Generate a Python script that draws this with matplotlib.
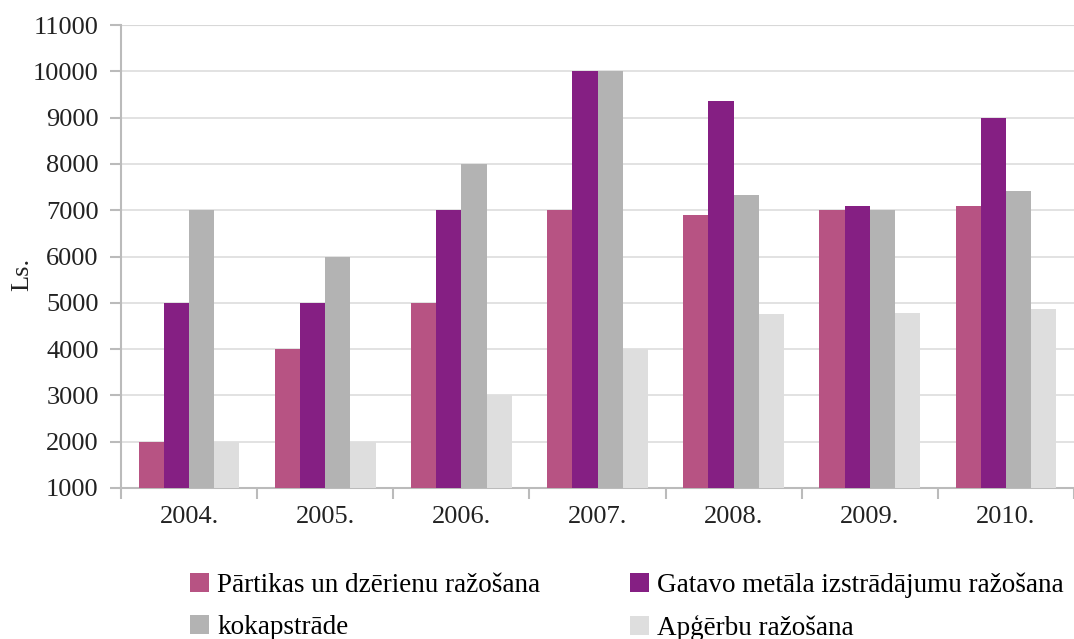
import matplotlib.pyplot as plt
import numpy as np

plt.rcParams['font.family'] = ['Liberation Serif', 'DejaVu Serif']

gadi = ['2004.', '2005.', '2006.', '2007.', '2008.', '2009.', '2010.']
partikas = [2000, 4000, 5000, 7000, 6900, 7000, 7100]
metala = [5000, 5000, 7000, 10000, 9350, 7100, 9000]
koka = [7000, 6000, 8000, 10000, 7330, 7000, 7420]
apgerbu = [2000, 2000, 3000, 4000, 4760, 4780, 4870]

nozares = ['Pārtikas un dzērienu ražošana', 'Gatavo metāla izstrādājumu ražošana',
           'kokapstrāde', 'Apģērbu ražošana']
vertibas = [partikas, metala, koka, apgerbu]
krasas = ['#B75383', '#851F83', '#B3B3B3', '#DEDEDE']

fig = plt.figure(figsize=(10.74, 6.39), dpi=100)
ax = fig.add_axes([121 / 1074, 1 - 488 / 639, 1 - 121 / 1074, (488 - 25) / 639])

x = np.arange(len(gadi))
w = 0.185
stabi = []
for i, (vals, c) in enumerate(zip(vertibas, krasas)):
    b = ax.bar(x + (i - 1.5) * w, np.array(vals) - 1000, width=w, bottom=1000,
               color=c, label=nozares[i], zorder=3)
    stabi.append(b)

ax.set_ylim(1000, 11000)
ax.set_yticks(range(1000, 11001, 1000))
ax.set_xlim(-0.5, -0.5 + (1074 - 121) / 137)
ax.set_xticks(x)
ax.set_xticklabels(gadi)
ax.set_xticks(np.arange(-0.5, 7, 1), minor=True)
ax.tick_params(axis='x', which='major', length=0, pad=13, labelsize=19, colors='#222222')
ax.tick_params(axis='x', which='minor', length=8, width=1.5, color='#BBBBBB')
ax.tick_params(axis='y', length=8, width=1.5, color='#BBBBBB', labelsize=19,
               labelcolor='#222222', pad=8)

ax.grid(axis='y', color='#DDDDDD', lw=1.2, zorder=0)
for s in ['top', 'right']:
    ax.spines[s].set_visible(False)
for s in ['left', 'bottom']:
    ax.spines[s].set_color('#BBBBBB')
    ax.spines[s].set_linewidth(1.5)
ax.axhline(11000, color='#C4C4C4', lw=1.5, zorder=1)

ax.set_ylabel('Ls.', fontsize=19, color='#222222')
ax.yaxis.set_label_coords(-0.092, 0.462)

# secība rindās: 1. rinda pirmie divi, 2. rinda pārējie
kartiba = [0, 2, 1, 3]
fig.legend([stabi[k] for k in kartiba], [nozares[k] for k in kartiba],
           loc='upper left', bbox_to_anchor=(176 / 1074, 1 - 559 / 639), ncol=2,
           frameon=False, fontsize=19.5, handlelength=0.72, handleheight=0.72,
           handletextpad=0.3, columnspacing=3.3, labelspacing=0.62, borderpad=0)

fig.savefig('out.png', dpi=100)
